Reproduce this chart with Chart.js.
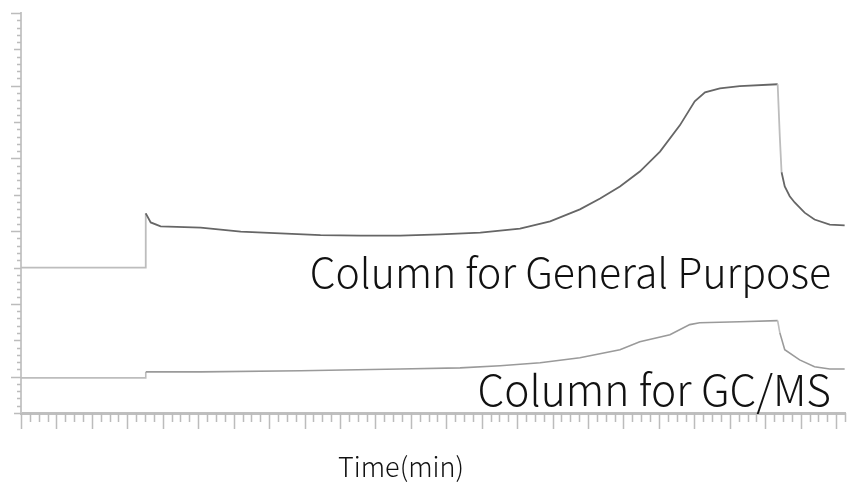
<!DOCTYPE html>
<html>
<head>
<meta charset="utf-8">
<script src="https://cdn.jsdelivr.net/npm/chart.js@4/dist/chart.umd.min.js"></script>
<style>
  html, body { margin: 0; padding: 0; background: #fff; }
  #wrap { width: 847px; height: 483px; }
</style>
</head>
<body>
<div id="wrap"><canvas id="chrom"></canvas></div>
<script>
// time (min) and detector signal
const generalTime = [0, 3.52, 3.52, 3.66, 3.94, 5.07, 6.20, 7.32, 8.45, 9.58, 10.70, 11.83, 12.96, 14.08, 14.93, 15.77, 16.34, 16.90, 17.46, 18.03, 18.59, 19.01, 19.30, 19.72, 20.28, 21.35, 21.41, 21.46, 21.55, 21.69, 21.83, 22.11, 22.39, 22.82, 23.24];
const generalSignal = [40, 40, 54.9, 52.4, 51.3, 51.0, 49.9, 49.4, 48.9, 48.8, 48.8, 49.1, 49.6, 50.7, 52.7, 56.0, 59.0, 62.3, 66.4, 71.9, 79.1, 85.7, 88.2, 89.3, 89.9, 90.4, 76.1, 66.2, 62.3, 59.6, 57.9, 55.1, 53.2, 51.8, 51.6];

const gcmsTime = [0, 3.52, 3.52, 5.07, 7.89, 10.70, 12.39, 13.52, 14.65, 15.77, 16.90, 17.46, 18.31, 18.87, 19.15, 20.28, 21.35, 21.41, 21.55, 21.97, 22.39, 22.82, 23.24];
const gcmsSignal = [9.65, 9.65, 11.3, 11.3, 11.6, 12.1, 12.4, 13.0, 13.8, 15.2, 17.4, 19.6, 21.5, 24.3, 24.8, 25.1, 25.4, 22.1, 17.4, 14.6, 12.7, 12.1, 12.1];

const seriesLabels = ['Column for General Purpose', 'Column for GC/MS'];
const xTitle = 'Time(min)';

const X_MAX = 23.25, Y_MAX = 110;

function toPoints(xs, ys) {
  return xs.map((x, i) => ({ x, y: ys[i] }));
}

// light grey for the baseline step and the steep drop, darker for the trace
function segColor(dark) {
  return ctx => {
    const x0 = ctx.p0.parsed.x, x1 = ctx.p1.parsed.x;
    if (x1 <= 3.6 || (x0 >= 21.3 && x1 <= 21.5)) return '#bdbdbd';
    return dark;
  };
}

// tick marks of different lengths + text overlays
const decor = {
  id: 'decor',
  afterDraw(chart) {
    const { ctx, chartArea, scales } = chart;
    const xs = scales.x, ys = scales.y;
    ctx.save();
    ctx.strokeStyle = '#bcbcbc';
    ctx.lineWidth = 1.5;
    ctx.beginPath();
    for (let v = 0; v <= Y_MAX + 0.001; v += 2) {
      const py = Math.round(ys.getPixelForValue(v)) + 0.5;
      let len = 4;
      if (v % 10 === 0) len = (v / 10) % 2 === 1 ? 10 : 7;
      ctx.moveTo(chartArea.left, py);
      ctx.lineTo(chartArea.left - len, py);
    }
    for (let v = 0; v <= X_MAX + 0.001; v += 0.25) {
      const px = Math.round(xs.getPixelForValue(v)) + 0.5;
      const len = Math.abs(v - Math.round(v)) < 0.01 ? 16 : 9;
      ctx.moveTo(px, chartArea.bottom);
      ctx.lineTo(px, chartArea.bottom + len);
    }
    ctx.stroke();

    ctx.fillStyle = '#111';
    ctx.textAlign = 'right';
    ctx.textBaseline = 'alphabetic';
    ctx.font = '300 41px "Noto Sans CJK JP"';
    ctx.fillText(seriesLabels[0], 831, 288);
    ctx.font = '300 42.5px "Noto Sans CJK JP"';
    ctx.fillText(seriesLabels[1], 831, 406);
    ctx.textAlign = 'center';
    ctx.font = '300 27px "Noto Sans CJK JP"';
    ctx.fillText(xTitle, 401, 477);
    ctx.restore();
  }
};

new Chart(document.getElementById('chrom'), {
  type: 'line',
  data: {
    datasets: [
      {
        label: seriesLabels[0],
        data: toPoints(generalTime, generalSignal),
        borderColor: '#666',
        segment: { borderColor: segColor('#666') },
        borderWidth: 1.8
      },
      {
        label: seriesLabels[1],
        data: toPoints(gcmsTime, gcmsSignal),
        borderColor: '#9a9a9a',
        segment: { borderColor: segColor('#9a9a9a') },
        borderWidth: 1.6
      }
    ]
  },
  options: {
    responsive: true,
    maintainAspectRatio: false,
    animation: false,
    layout: { padding: { left: 13, top: 13, right: 2, bottom: 62 } },
    elements: { point: { radius: 0 }, line: { tension: 0 } },
    plugins: { legend: { display: false }, tooltip: { enabled: false } },
    scales: {
      x: {
        type: 'linear', min: 0, max: X_MAX,
        ticks: { display: false },
        grid: { display: false },
        border: { display: true, color: '#bfbfbf', width: 3 }
      },
      y: {
        min: 0, max: Y_MAX,
        ticks: { display: false },
        grid: { display: false },
        border: { display: true, color: '#c8c8c8', width: 2 }
      }
    }
  },
  plugins: [decor]
});
</script>
</body>
</html>
